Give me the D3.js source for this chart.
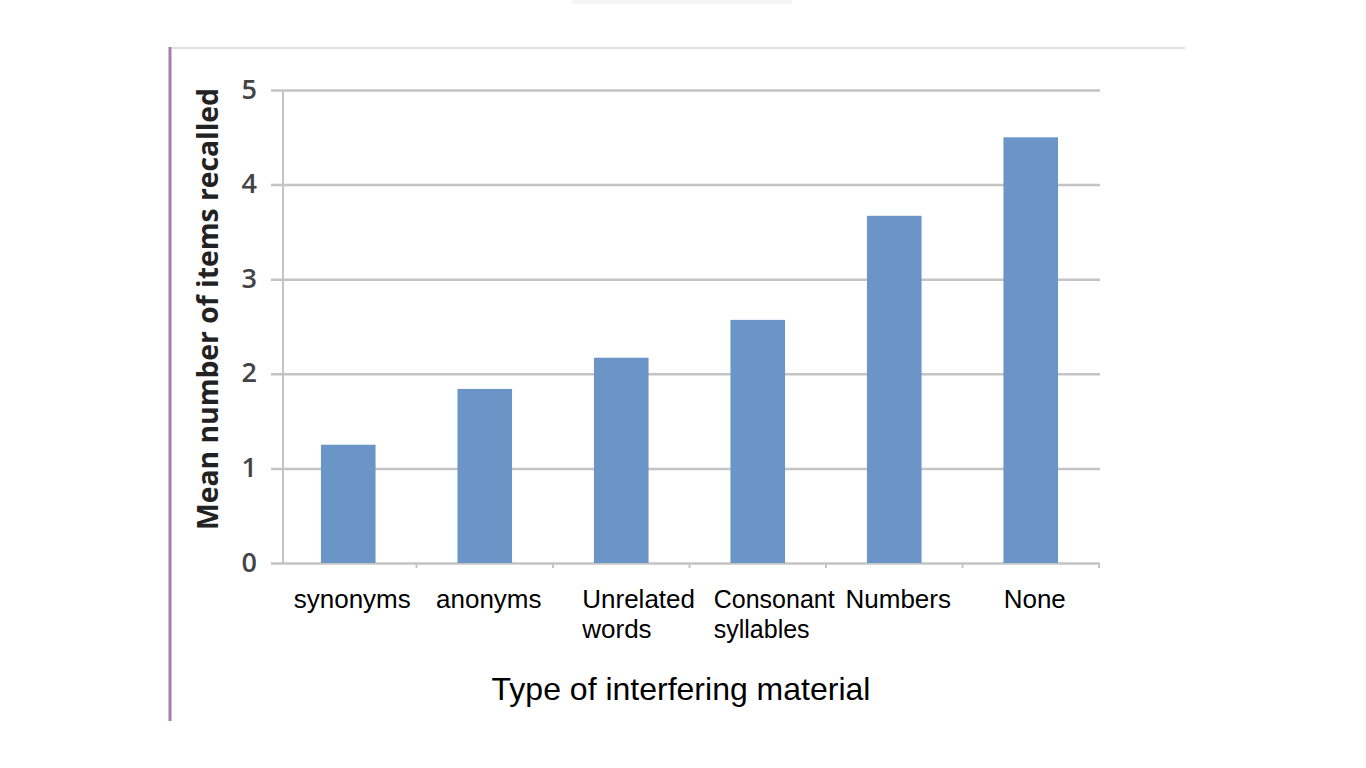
<!DOCTYPE html>
<html>
<head>
<meta charset="utf-8">
<script src="https://cdn.jsdelivr.net/npm/d3@7"></script>
<style>
  body { margin: 0; background: #fff; }
</style>
</head>
<body>
<svg id="chart" width="1366" height="768"></svg>
<script>
const categories = ['synonyms', 'anonyms', 'Unrelated words', 'Consonant syllables', 'Numbers', 'None']
const values = [1.25, 1.84, 2.17, 2.57, 3.67, 4.5]
const yTicks = [0, 1, 2, 3, 4, 5]

const svg = d3.select('#chart')
const barColor = '#6b94c7'
const gridColor = '#c4c4c6'

const plotLeft = 280
const plotRight = 1099
const plotTop = 90
const plotBottom = 563

// frame of the pasted picture
svg.append('line')
  .attr('x1', 170).attr('y1', 48).attr('x2', 1185).attr('y2', 48)
  .style('stroke', '#eadcea').style('stroke-width', 2)
svg.append('line')
  .attr('x1', 170).attr('y1', 47).attr('x2', 170).attr('y2', 721)
  .style('stroke', '#a67fb0').style('stroke-width', 3)
svg.append('rect')
  .attr('x', 572).attr('y', 0).attr('width', 220).attr('height', 4)
  .attr('fill', '#f4f4f4')

const xScale = d3.scaleBand()
  .domain(categories)
  .range([plotLeft, plotRight])
  .paddingInner(0.6)
  .paddingOuter(0.3)

const yScale = d3.scaleLinear()
  .domain([0, 5])
  .range([plotBottom, plotTop])

// horizontal grid
const yAxis = d3.axisLeft(yScale)
  .tickValues(yTicks)
  .tickSize(-(plotRight - plotLeft + 10))
  .tickPadding(14)
  .tickFormat(d3.format('d'))

const gy = svg.append('g')
  .attr('transform', `translate(${plotLeft - 9}, 0)`)
  .call(yAxis)

gy.select('path.domain').remove()
gy.selectAll('.tick line')
  .style('stroke', gridColor)
  .style('stroke-width', 2.5)
gy.selectAll('.tick text')
  .style('font-family', '"Open Sans", sans-serif')
  .style('font-size', '27px')
  .style('font-weight', '600')
  .style('fill', '#444')
  .attr('dy', '0.3em')

// vertical axis line
svg.append('line')
  .attr('x1', plotLeft + 3).attr('y1', plotTop).attr('x2', plotLeft + 3).attr('y2', plotBottom)
  .style('stroke', gridColor).style('stroke-width', 2)

// category boundary ticks on the x axis
const gap = xScale.step() * xScale.paddingInner()
svg.selectAll('line.xtick')
  .data(categories)
  .enter()
  .append('line')
    .attr('class', 'xtick')
    .attr('x1', d => xScale(d) + xScale.bandwidth() + gap / 2)
    .attr('x2', d => xScale(d) + xScale.bandwidth() + gap / 2)
    .attr('y1', plotBottom).attr('y2', plotBottom + 5)
    .style('stroke', gridColor).style('stroke-width', 2)

// bars
svg.selectAll('rect.bar')
  .data(values)
  .enter()
  .append('rect')
    .attr('class', 'bar')
    .attr('x', (d, i) => xScale(categories[i]))
    .attr('y', d => yScale(d))
    .attr('width', xScale.bandwidth())
    .attr('height', d => yScale(0) - yScale(d))
    .attr('fill', barColor)

// category labels
const labels = svg.selectAll('text.cat')
  .data(categories)
  .enter()
  .append('text')
    .attr('class', 'cat')
    .attr('text-anchor', 'middle')
    .attr('x', d => xScale(d) + xScale.bandwidth() / 2 + 4)
    .attr('y', 608)
    .style('font-family', '"Liberation Sans", Arial, sans-serif')
    .style('font-size', d => d.startsWith('Consonant') ? '25px' : '26px')
    .style('fill', '#000')

labels.each(function(d) {
  const words = d.split(' ')
  const el = d3.select(this)
  if (words.length === 2) {
    const x0 = xScale(d) + xScale.bandwidth() / 2 - (d.startsWith('Consonant') ? 44 : 39)
    el.attr('text-anchor', 'start').attr('x', x0)
    words.forEach((w, i) => {
      el.append('tspan')
        .attr('x', x0)
        .attr('dy', i === 0 ? 0 : 30)
        .text(w)
    })
  } else {
    el.text(d)
  }
})

// axis titles
svg.append('text')
  .attr('text-anchor', 'middle')
  .attr('x', 681)
  .attr('y', 700)
  .style('font-family', '"Liberation Sans", Arial, sans-serif')
  .style('font-size', '32px')
  .text('Type of interfering material')

svg.append('text')
  .attr('text-anchor', 'middle')
  .attr('transform', 'translate(218, 309) rotate(-90)')
  .attr('textLength', 442)
  .attr('lengthAdjust', 'spacingAndGlyphs')
  .style('font-family', '"Open Sans", sans-serif')
  .style('font-weight', 'bold')
  .style('font-size', '28px')
  .style('fill', '#222')
  .text('Mean number of items recalled')
</script>
</body>
</html>
